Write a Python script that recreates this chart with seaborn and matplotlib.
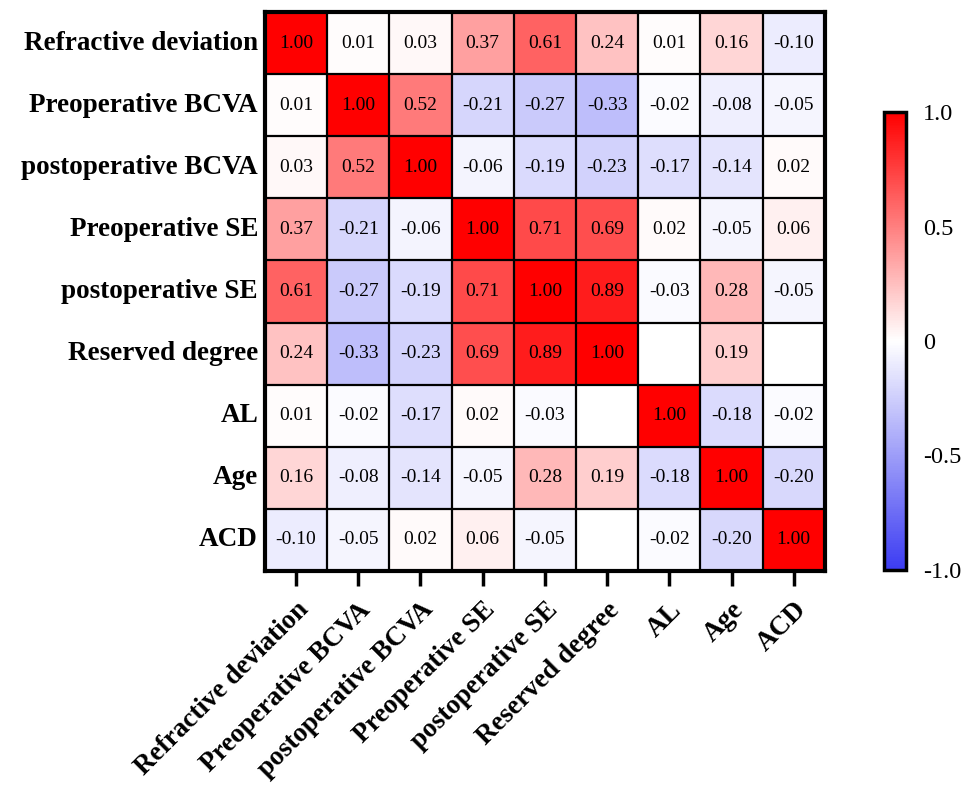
import numpy as np
import pandas as pd
import matplotlib
matplotlib.use("Agg")
import matplotlib.pyplot as plt
import seaborn as sns
from matplotlib.colors import LinearSegmentedColormap

labels = ["Refractive deviation", "Preoperative BCVA", "postoperative BCVA",
          "Preoperative SE", "postoperative SE", "Reserved degree", "AL", "Age", "ACD"]

row_refractive = [1.00, 0.01, 0.03, 0.37, 0.61, 0.24, 0.01, 0.16, -0.10]
row_pre_bcva = [0.01, 1.00, 0.52, -0.21, -0.27, -0.33, -0.02, -0.08, -0.05]
row_post_bcva = [0.03, 0.52, 1.00, -0.06, -0.19, -0.23, -0.17, -0.14, 0.02]
row_pre_se = [0.37, -0.21, -0.06, 1.00, 0.71, 0.69, 0.02, -0.05, 0.06]
row_post_se = [0.61, -0.27, -0.19, 0.71, 1.00, 0.89, -0.03, 0.28, -0.05]
row_reserved = [0.24, -0.33, -0.23, 0.69, 0.89, 1.00, np.nan, 0.19, np.nan]
row_al = [0.01, -0.02, -0.17, 0.02, -0.03, np.nan, 1.00, -0.18, -0.02]
row_age = [0.16, -0.08, -0.14, -0.05, 0.28, 0.19, -0.18, 1.00, -0.20]
row_acd = [-0.10, -0.05, 0.02, 0.06, -0.05, np.nan, -0.02, -0.20, 1.00]

cbar_ticks = [-1.0, -0.5, 0, 0.5, 1.0]
cbar_ticklabels = ["-1.0", "-0.5", "0", "0.5", "1.0"]

df = pd.DataFrame([row_refractive, row_pre_bcva, row_post_bcva, row_pre_se, row_post_se,
                   row_reserved, row_al, row_age, row_acd], index=labels, columns=labels)

sns.set_style("white")
plt.rcParams['font.family'] = ['Liberation Serif', 'DejaVu Serif']
plt.rcParams['text.color'] = 'black'
plt.rcParams['xtick.color'] = 'black'
plt.rcParams['ytick.color'] = 'black'
plt.rcParams['axes.labelcolor'] = 'black'

cmap = LinearSegmentedColormap.from_list("bwr2", ["#3c3cf2", "#ffffff", "#ff0000"])

fig = plt.figure(figsize=(9.72, 7.89), dpi=100)
ax = fig.add_axes([0.2726, 0.2763, 0.576, 0.7085])
cax = fig.add_axes([0.9095, 0.2776, 0.0226, 0.5804])

sns.heatmap(df, ax=ax, cbar_ax=cax, cmap=cmap, vmin=-1, vmax=1,
            annot=True, fmt=".2f", annot_kws={"fontsize": 14, "color": "black"},
            linewidths=0, square=False)

# grid lines around all cells (including blank ones)
n = len(labels)
for i in range(1, n):
    ax.axhline(i, color="black", lw=1.6)
    ax.axvline(i, color="black", lw=1.6)

for sp in ax.spines.values():
    sp.set_visible(True)
    sp.set_linewidth(3)
    sp.set_color("black")

ax.set_yticklabels(labels, rotation=0, fontsize=19.5, fontweight="bold", color="black")
ax.set_xticklabels(labels, rotation=45, ha="right", rotation_mode="anchor",
                   fontsize=19.5, fontweight="bold", color="black")
ax.tick_params(axis="x", bottom=True, length=11, width=2.5, direction="out", pad=8,
               color="black")
ax.tick_params(axis="y", left=False, length=0, pad=5)
ax.set_xlabel("")
ax.set_ylabel("")

cb = ax.collections[0].colorbar
cb.set_ticks(cbar_ticks)
cb.set_ticklabels(cbar_ticklabels)
cb.outline.set_linewidth(2.5)
cb.outline.set_edgecolor("black")
cax.tick_params(labelsize=17.5, length=8, width=2, direction="in", right=True, pad=12,
                colors="black")

fig.savefig("out.png", dpi=100)
